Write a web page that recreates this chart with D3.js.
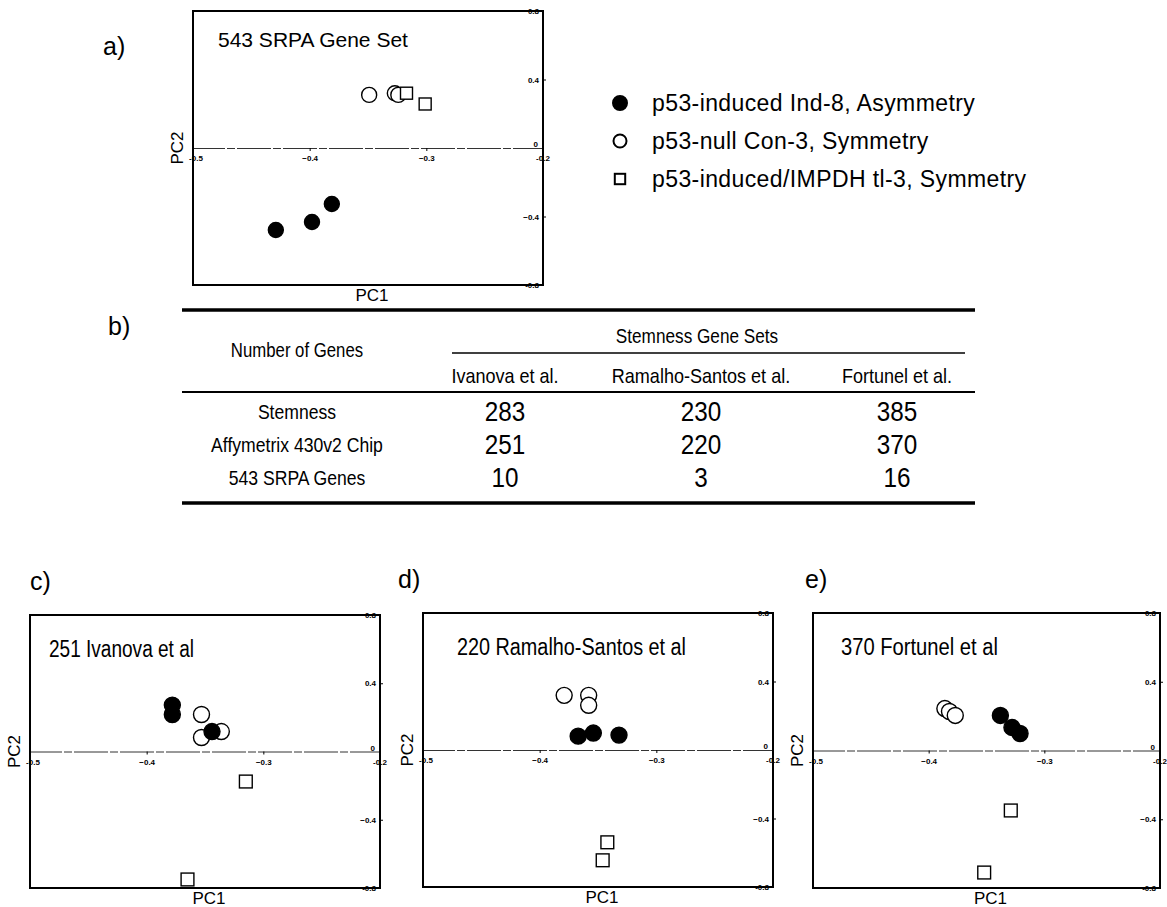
<!DOCTYPE html>
<html>
<head>
<meta charset="utf-8">
<script src="https://cdn.jsdelivr.net/npm/d3@7"></script>
<style>
  body { margin: 0; background: #fff; }
  svg { display: block; font-family: "Liberation Sans", Arial, sans-serif; }
</style>
</head>
<body>
<svg id="fig" width="1167" height="907"></svg>
<script>
// groups / legend
const groupNames = ['p53-induced Ind-8, Asymmetry', 'p53-null Con-3, Symmetry', 'p53-induced/IMPDH tl-3, Symmetry'];
const groupShapes = ['filled', 'open', 'square'];

// PCA scores: [group, PC1, PC2]
const pointsA = [
    [1, -0.349, 0.31], [1, -0.327, 0.32], [1, -0.324, 0.31],
    [2, -0.317, 0.32], [2, -0.301, 0.257],
    [0, -0.429, -0.479], [0, -0.398, -0.432], [0, -0.381, -0.327]
];
const pointsC = [
    [1, -0.353, 0.217], [1, -0.353, 0.082], [1, -0.336, 0.117],
    [0, -0.378, 0.272], [0, -0.378, 0.217], [0, -0.344, 0.117],
    [2, -0.315, -0.176], [2, -0.365, -0.75]
];
const pointsD = [
    [1, -0.379, 0.319], [1, -0.358, 0.319], [1, -0.358, 0.261],
    [0, -0.367, 0.081], [0, -0.354, 0.099], [0, -0.332, 0.087],
    [2, -0.342, -0.539], [2, -0.346, -0.644]
];
const pointsE = [
    [1, -0.386, 0.244], [1, -0.382, 0.227], [1, -0.377, 0.204],
    [0, -0.338, 0.204], [0, -0.328, 0.134], [0, -0.321, 0.099],
    [2, -0.329, -0.349], [2, -0.352, -0.71]
];

const panelLetters = ['a)', 'c)', 'd)', 'e)'];
const panelTitles = ['543 SRPA Gene Set', '251 Ivanova et al', '220 Ramalho-Santos et al', '370 Fortunel et al'];
const panelPoints = [pointsA, pointsC, pointsD, pointsE];

const xDomain = [-0.5, -0.2];
const yDomain = [-0.8, 0.8];
const xTicks = [-0.4, -0.3];
const yTicks = [0.4, -0.4];

// table
const tableHeader = 'Number of Genes';
const tableGroupTitle = 'Stemness Gene Sets';
const tableCols = ['Ivanova et al.', 'Ramalho-Santos et al.', 'Fortunel et al.'];
const tableRows = ['Stemness', 'Affymetrix 430v2 Chip', '543 SRPA Genes'];
const tableValues = [
    [283, 230, 385],
    [251, 220, 370],
    [10, 3, 16]
];

const svg = d3.select('#fig');

// panel boxes (layout)
const boxes = [
    { x: 193, y: 11, w: 350, h: 274, lx: 103, ly: 55, tx: 25, tw: null },
    { x: 30, y: 615, w: 350, h: 273, lx: 30, ly: 590, tx: 19, tw: 145 },
    { x: 423, y: 613, w: 350, h: 274, lx: 398, ly: 588, tx: 34, tw: 229 },
    { x: 813, y: 613, w: 347, h: 275, lx: 805, ly: 588, tx: 28, tw: 157 }
];

function drawMarker(g, shape, size, sw) {
    if (shape === 'square') {
        return g.append('rect')
            .attr('x', -size * 0.8).attr('y', -size * 0.8)
            .attr('width', size * 1.6).attr('height', size * 1.6)
            .attr('fill', '#fff').attr('stroke', '#000').attr('stroke-width', sw);
    }
    return g.append('circle')
        .attr('r', size)
        .attr('fill', shape === 'filled' ? '#000' : '#fff')
        .attr('stroke', '#000').attr('stroke-width', sw);
}

function tick(g, x, y, s, anchor) {
    return g.append('text').attr('x', x).attr('y', y)
        .attr('text-anchor', anchor).attr('font-size', 8).attr('font-weight', 'bold').text(s);
}

function drawPanel(i) {
    const b = boxes[i];
    const x = d3.scaleLinear().domain(xDomain).range([b.x, b.x + b.w]);
    const y = d3.scaleLinear().domain(yDomain).range([b.y + b.h, b.y]);
    const g = svg.append('g').attr('class', 'panel');

    svg.append('text')
        .attr('x', b.lx).attr('y', b.ly)
        .attr('font-size', 25)
        .text(panelLetters[i]);

    // zero line with x ticks
    const xAxis = d3.axisBottom(x).tickValues(xTicks).tickSize(3).tickFormat(d3.format('.1f'));
    const xg = g.append('g').attr('transform', `translate(0,${y(0)})`).call(xAxis);
    xg.select('.domain').attr('stroke', '#333').attr('stroke-width', 1).attr('stroke-dasharray', '34 2 8 2');
    xg.selectAll('.tick line').attr('stroke', '#000');
    xg.selectAll('.tick text').attr('font-size', 8).attr('font-weight', 'bold').attr('dy', '0.9em');
    tick(g, x(-0.5) + 3, y(0) + 13, '-0.5', 'middle');
    tick(g, x(-0.2), y(0) + 13, '-0.2', 'middle');

    // y ticks on the right border
    const yAxis = d3.axisRight(y).tickValues(yTicks).tickSize(3).tickFormat(d3.format('.1f'));
    const yg = g.append('g').attr('transform', `translate(${b.x + b.w},0)`).call(yAxis);
    yg.select('.domain').remove();
    yg.selectAll('.tick text').attr('font-size', 8).attr('font-weight', 'bold')
        .attr('text-anchor', 'end').attr('x', -4);
    yDomain.forEach(v => tick(g, b.x + b.w - 4, y(v) + 3, v.toFixed(1), 'end'));
    tick(g, b.x + b.w - 5, y(0) - 1, '0', 'end');

    // frame
    g.append('rect')
        .attr('x', b.x).attr('y', b.y).attr('width', b.w).attr('height', b.h)
        .attr('fill', 'none').attr('stroke', '#000').attr('stroke-width', 2);

    // axis titles
    g.append('text')
        .attr('transform', `translate(${b.x - 10},${y(0)}) rotate(-90)`)
        .attr('text-anchor', 'middle').attr('font-size', 17).text('PC2');
    g.append('text')
        .attr('x', b.x + b.w / 2 + 4).attr('y', b.y + b.h + 16)
        .attr('text-anchor', 'middle').attr('font-size', 17).text('PC1');

    // title
    const t = g.append('text')
        .attr('x', b.x + b.tx).attr('y', b.y + (i === 0 ? 36 : 42))
        .attr('font-size', i === 0 ? 21 : 23)
        .text(panelTitles[i]);
    if (b.tw) t.attr('textLength', b.tw).attr('lengthAdjust', 'spacingAndGlyphs');

    // points
    const r = i === 0 ? 7.5 : 8;
    g.selectAll('.pt')
        .data(panelPoints[i])
        .enter().append('g')
        .attr('class', 'pt')
        .attr('transform', d => `translate(${x(d[1])},${y(d[2])})`)
        .each(function (d) { drawMarker(d3.select(this), groupShapes[d[0]], r, 1.4); });
}

panelTitles.forEach((t, i) => drawPanel(i));

// legend
const legendY = d3.scalePoint().domain(groupNames).range([103, 179]);
const legend = svg.append('g');
groupNames.forEach((name, k) => {
    const row = legend.append('g').attr('transform', `translate(620,${legendY(name)})`);
    drawMarker(row, groupShapes[k], k === 0 ? 7 : 6.5, 2);
    row.append('text').attr('x', 32).attr('y', 8).attr('font-size', 23)
        .attr('letter-spacing', 0.4).text(name);
});

// table b)
svg.append('text').attr('x', 108).attr('y', 335).attr('font-size', 25).text('b)');
const tL = 182, tR = 975;
const colX = d3.scalePoint().domain(tableCols).range([505, 897]);
const rowY = d3.scalePoint().domain(tableRows).range([419, 485]);
const tbl = svg.append('g');
const rule = (x1, x2, yy, w) => tbl.append('line').attr('x1', x1).attr('x2', x2)
    .attr('y1', yy).attr('y2', yy).attr('stroke', '#000').attr('stroke-width', w);
rule(tL, tR, 310, 3.5);
rule(452, 965, 353, 1.5);
rule(tL, tR, 392, 2);
rule(tL, tR, 503, 3.5);

// condensed text, like the narrow face of the original
function ctext(xx, yy, s, size, sx) {
    return tbl.append('text')
        .attr('transform', `translate(${xx},${yy}) scale(${sx},1)`)
        .attr('text-anchor', 'middle').attr('font-size', size).text(s);
}
ctext(297, 357, tableHeader, 19.5, 0.86);
ctext(697, 343, tableGroupTitle, 20, 0.86);
tableCols.forEach(c => ctext(colX(c), 383, c, 20.5, 0.88));
tableRows.forEach(rw => ctext(297, rowY(rw), rw, 20, 0.88));
tableValues.forEach((vals, ri) => {
    vals.forEach((v, ci) => ctext(colX(tableCols[ci]), rowY(tableRows[ri]) + 2, v, 27, 0.9));
});
</script>
</body>
</html>
